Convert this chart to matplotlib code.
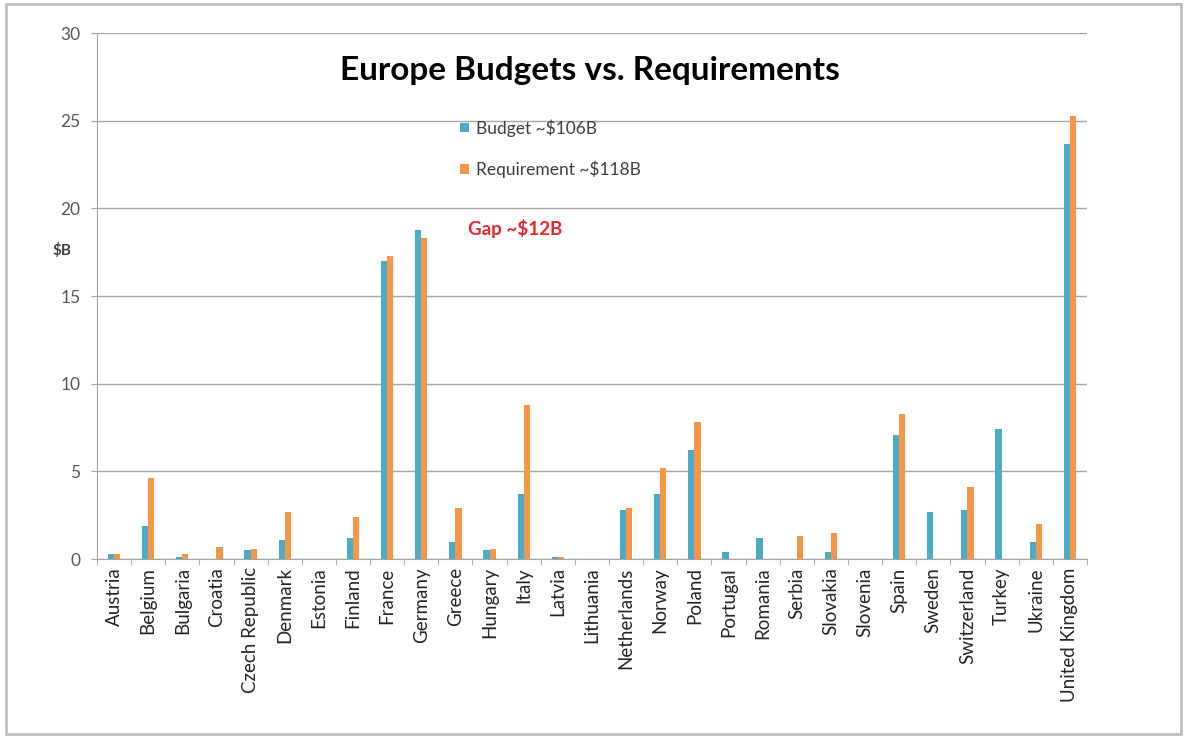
import matplotlib.pyplot as plt
import numpy as np
from matplotlib.patches import Rectangle

plt.rcParams['font.family'] = ['Lato', 'DejaVu Sans']

# Data ($B)
countries = ['Austria', 'Belgium', 'Bulgaria', 'Croatia', 'Czech Republic', 'Denmark',
             'Estonia', 'Finland', 'France', 'Germany', 'Greece', 'Hungary', 'Italy',
             'Latvia', 'Lithuania', 'Netherlands', 'Norway', 'Poland', 'Portugal',
             'Romania', 'Serbia', 'Slovakia', 'Slovenia', 'Spain', 'Sweden',
             'Switzerland', 'Turkey', 'Ukraine', 'United Kingdom']
budget = [0.3, 1.9, 0.1, 0.0, 0.5, 1.1, 0.0, 1.2, 17.0, 18.8, 1.0, 0.5, 3.7,
          0.1, 0.0, 2.8, 3.7, 6.2, 0.4, 1.2, 0.0, 0.4, 0.0, 7.1, 2.7, 2.8, 7.4, 1.0, 23.7]
requirement = [0.3, 4.6, 0.3, 0.7, 0.6, 2.7, 0.0, 2.4, 17.3, 18.3, 2.9, 0.6, 8.8,
               0.1, 0.0, 2.9, 5.2, 7.8, 0.0, 0.0, 1.3, 1.5, 0.0, 8.3, 0.0, 4.1, 0.0, 2.0, 25.3]

blue = '#4BACC6'
orange = '#F79646'

fig = plt.figure(figsize=(11.87, 7.38), dpi=100)
ax = fig.add_axes([0.0817, 0.2425, 0.834, 0.7125])

x = np.arange(len(countries))
w = 0.18
ax.bar(x - w / 2, budget, w, color=blue, label='Budget ~$106B')
ax.bar(x + w / 2, requirement, w, color=orange, label='Requirement ~$118B')

ax.set_xlim(-0.5, len(countries) - 0.5)
ax.set_ylim(0, 30)
ax.set_yticks(range(0, 31, 5))
ax.yaxis.grid(True, color='#a6a6a6', linewidth=1)
ax.set_axisbelow(True)
ax.set_xticks(x)
ax.set_xticklabels(countries, rotation=90, fontsize=13.5, color='#262626')
ax.tick_params(axis='x', length=0, pad=6)
ax.set_xticks(np.arange(-0.5, len(countries), 1), minor=True)
ax.tick_params(axis='x', which='minor', length=4, color='#a6a6a6')
ax.tick_params(axis='y', length=4, color='#a6a6a6', labelsize=12.5, labelcolor='#595959', pad=8)
for s in ['top', 'right']:
    ax.spines[s].set_visible(False)
ax.spines['left'].set_color('#a6a6a6')
ax.spines['bottom'].set_color('#a6a6a6')

ax.legend(loc='upper left', bbox_to_anchor=(0.358, 0.853), frameon=False, fontsize=12.5,
          handlelength=0.5, handleheight=0.5, handletextpad=0.4, labelspacing=1.4,
          labelcolor='#404040', borderpad=0)

fig.text(0.497, 0.905, 'Europe Budgets vs. Requirements', ha='center', va='center',
         fontsize=24, fontweight='bold', color='black')
fig.text(0.394, 0.691, 'Gap ~$12B', ha='left', va='center', fontsize=13.5,
         fontweight='bold', color='#e8262a')
fig.text(0.044, 0.661, '$B', ha='left', va='center', fontsize=11,
         fontweight='bold', color='#404040')

# outer frame of the picture
fig.patches.append(Rectangle((0.005, 0.005), 0.99, 0.99, transform=fig.transFigure,
                             fill=False, edgecolor='#c0c0c0', linewidth=2))

fig.savefig('out.png', dpi=100)
